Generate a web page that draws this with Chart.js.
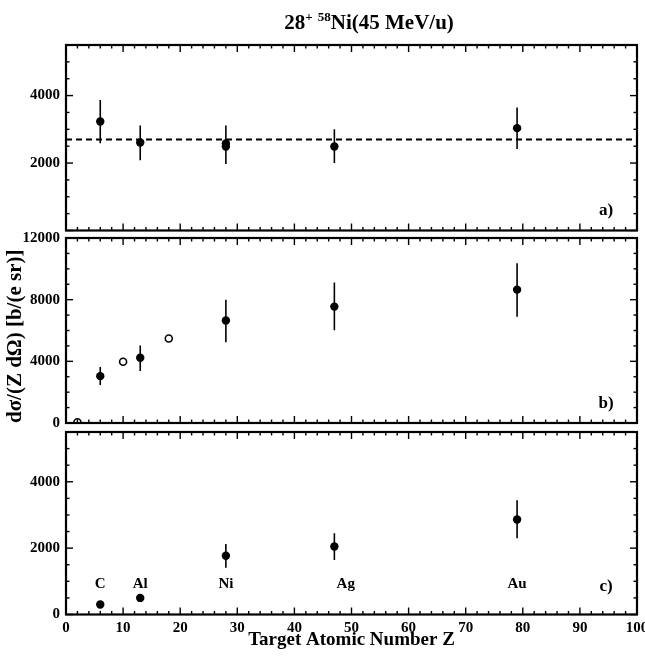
<!DOCTYPE html>
<html><head><meta charset="utf-8">
<script src="https://cdn.jsdelivr.net/npm/chart.js@4/dist/chart.umd.min.js"></script>
<style>
html,body{margin:0;padding:0;background:#fff;}
#wrap{position:relative;width:645px;height:656px;overflow:hidden;background:#fff;}
canvas{position:absolute;left:0;top:0;}
#title{position:absolute;top:10px;left:369px;transform:translateX(-50%);font:bold 21px "Liberation Serif","Times New Roman",serif;white-space:nowrap;line-height:24px;color:#000;}
#title .s{font-size:13px;position:relative;top:-8px;}
</style></head><body>
<div id="wrap">
<canvas id="ca" width="645" height="656"></canvas>
<canvas id="cb" width="645" height="656"></canvas>
<canvas id="cc" width="645" height="656"></canvas>
<div id="title">28<span class="s">+</span> <span class="s">58</span>Ni(45 MeV/u)</div>
</div>
<script>
// ---------- data ----------
const xTicks = [0,10,20,30,40,50,60,70,80,90,100];
const aTicks = [2000,4000];
const bTicks = [0,4000,8000,12000];
const cTicks = [0,2000,4000];

// panel a
const aZ   = [6,13,28,28,47,79];
const aVal = [3230,2610,2580,2490,2490,3035];
const aErrZ = [6,13,28,47,79];
const aLo   = [2590,2080,1970,2000,2420];
const aHi   = [3870,3110,3110,3000,3645];
const aMean = 2700;

// panel b
const bZ   = [6,13,28,47,79];
const bVal = [3040,4230,6650,7550,8650];
const bLo  = [2460,3370,5240,6020,6900];
const bHi  = [3625,5030,7990,9110,10360];
const bOpenZ   = [2,10,18];
const bOpenVal = [50,3970,5480];

// panel c
const cZ   = [6,13,28,47,79];
const cVal = [300,500,1770,2050,2865];
const cErrZ = [28,47,79];
const cLo   = [1410,1640,2300];
const cHi   = [2125,2450,3445];

// target labels (panel c)
const targetNames = ['C','Al','Ni','Ag','Au'];
const targetLabelZ = [6,13,28,49,79];
const targetLabelVal = 920;

// ---------- helpers ----------
const FONT = '"Liberation Serif","Times New Roman",serif';
function pts(zs, vs){ return zs.map((z,i)=>({x:z,y:vs[i]})); }
function errData(zs, lo, hi){
  const d=[];
  zs.forEach((z,i)=>{ d.push({x:z,y:lo[i]},{x:z,y:hi[i]},{x:z,y:null}); });
  return d;
}
function filled(data){
  return {data, pointStyle:'circle', pointRadius:4.2, pointBackgroundColor:'#000', pointBorderWidth:0, showLine:false, order:0};
}
function open(data){
  return {data, pointStyle:'circle', pointRadius:3.5, pointBackgroundColor:'#fff', pointBorderColor:'#000', pointBorderWidth:1.6, showLine:false, clip:0, order:0};
}
function errs(data){
  return {data, showLine:true, pointRadius:0, borderColor:'#000', borderWidth:1.6, spanGaps:false, order:1};
}

function panel(id, cfg){
  const plugin = {
    id:'frame_'+id,
    afterDatasetsDraw(chart){
      const {ctx, chartArea:a, scales:{x,y}} = chart;
      const line=(x1,y1,x2,y2)=>{ctx.beginPath();ctx.moveTo(x1,y1);ctx.lineTo(x2,y2);ctx.stroke();};
      ctx.save();
      ctx.strokeStyle='#000'; ctx.lineWidth=1.4;
      for(let v=0; v<=100; v+=2){
        const px=x.getPixelForValue(v); const L=(v%10===0)?7:3.5;
        line(px,a.bottom,px,a.bottom-L); line(px,a.top,px,a.top+L);
      }
      for(let v=cfg.min; v<=cfg.max; v+=cfg.minor){
        const py=y.getPixelForValue(v); const L=(v%cfg.major===0)?7:3.5;
        line(a.left,py,a.left+L,py); line(a.right,py,a.right-L,py);
      }
      ctx.lineWidth=2.2;
      ctx.strokeRect(a.left,a.top,a.right-a.left,a.bottom-a.top);
      ctx.fillStyle='#000'; ctx.textAlign='center'; ctx.textBaseline='middle';
      ctx.font='bold 17px '+FONT;
      ctx.fillText(cfg.letter, a.right-31, a.bottom-cfg.letterDy);
      if(cfg.labels){
        ctx.font='bold 15px '+FONT;
        targetNames.forEach((t,i)=>ctx.fillText(t, x.getPixelForValue(targetLabelZ[i]), y.getPixelForValue(targetLabelVal)));
      }
      ctx.restore();
    }
  };
  const tickFont={family:FONT,size:15,weight:'bold'};
  return new Chart(document.getElementById(id), {
    type:'scatter',
    data:{datasets:cfg.datasets},
    options:{
      responsive:false, animation:false, events:[],
      layout:{padding:{top:cfg.top, bottom:cfg.bottom, left:0, right:8}},
      plugins:{legend:{display:false}, tooltip:{enabled:false}},
      scales:{
        x:{type:'linear', min:0, max:100, display:cfg.showX,
           afterBuildTicks:s=>{s.ticks=xTicks.map(v=>({value:v}));},
           afterFit:s=>{ if(cfg.showX){ s.height=41.5; } else { s.height=0; } s.paddingLeft=0; s.paddingRight=0; },
           grid:{display:false,drawTicks:false}, border:{display:false},
           ticks:{font:tickFont,color:'#000',padding:5,maxRotation:0,autoSkip:false,callback:v=>String(v)},
           title:{display:true,text:'Target Atomic Number Z',color:'#000',font:{family:FONT,size:19,weight:'bold'},padding:{top:0,bottom:5}}},
        y:{type:'linear', min:cfg.min, max:cfg.max,
           afterBuildTicks:s=>{s.ticks=cfg.ticks.map(v=>({value:v}));},
           afterFit:s=>{s.width=66; s.paddingTop=0; s.paddingBottom=0;},
           grid:{display:false,drawTicks:false}, border:{display:false},
           ticks:{font:tickFont,color:'#000',padding:6,callback:v=>String(v)},
           title:cfg.yTitle?{display:true,text:cfg.yTitle,align:'start',color:'#000',font:{family:FONT,size:21,weight:'bold'},padding:{top:3,bottom:0}}:{display:false}}
      }
    },
    plugins:[plugin]
  });
}

panel('ca',{
  top:45, bottom:656-230.5, showX:false, min:0, max:5500, minor:500, major:2000, ticks:aTicks,
  letter:'a)', letterDy:20,
  datasets:[
    filled(pts(aZ,aVal)),
    errs(errData(aErrZ,aLo,aHi)),
    {data:[{x:0,y:aMean},{x:100,y:aMean}], showLine:true, pointRadius:0, borderColor:'#000', borderWidth:2, borderDash:[6,4], order:2}
  ]
});
panel('cb',{
  top:238, bottom:656-423, showX:false, min:0, max:12000, minor:1000, major:4000, ticks:bTicks,
  letter:'b)', letterDy:19, yTitle:'dσ/(Z dΩ) [b/(e sr)]',
  datasets:[
    filled(pts(bZ,bVal)),
    open(pts(bOpenZ,bOpenVal)),
    errs(errData(bZ,bLo,bHi))
  ]
});
panel('cc',{
  top:432, bottom:0, showX:true, min:0, max:5500, minor:500, major:2000, ticks:cTicks,
  letter:'c)', letterDy:28, labels:true,
  datasets:[
    filled(pts(cZ,cVal)),
    errs(errData(cErrZ,cLo,cHi))
  ]
});
</script>
</body></html>
